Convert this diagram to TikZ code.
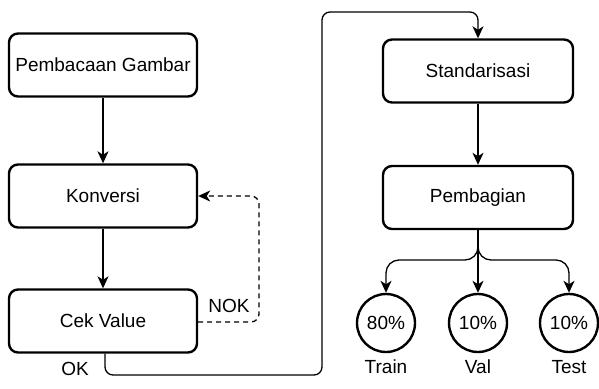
\documentclass[tikz,border=0pt]{standalone}
\usepackage{fontspec}
\setmainfont{Liberation Sans}
\usetikzlibrary{arrows.meta}
\begin{document}
\begin{tikzpicture}[x=1pt,y=-1pt,
  font=\fontsize{19}{22}\selectfont,
  stepbox/.style={draw, line width=2.4pt, rounded corners=9pt, minimum width=188pt, minimum height=63pt, inner sep=0pt},
  pct/.style={draw, circle, line width=2.4pt, minimum size=58pt, inner sep=0pt},
  conn/.style={line width=1.3pt, rounded corners=8pt, -{Stealth[length=12pt,width=11pt,inset=3.5pt]}},
  lbl/.style={inner sep=0pt}]
\useasboundingbox (0,0) rectangle (599,388);
\node[stepbox] (p1) at (103,65) {Pembacaan Gambar};
\node[stepbox] (p2) at (103,196) {Konversi};
\node[stepbox] (p3) at (103,321) {Cek Value};
\node[stepbox, minimum width=190pt] (p4) at (478,71) {Standarisasi};
\node[stepbox, minimum width=190pt] (p5) at (478,197.5) {Pembagian};
\node[pct] (c1) at (386,323) {80\%};
\node[pct] (c2) at (478,323) {10\%};
\node[pct] (c3) at (569,323) {10\%};
\node[lbl] (t1) at (386,367) {Train};
\node[lbl] (t2) at (478,367) {Val};
\node[lbl] (t3) at (569,367) {Test};
\node[lbl] (nok) at (229,306) {NOK};
\node[lbl] (ok) at (75,369) {OK};
\coordinate (d1) at (259,322);
\coordinate (d2) at (259,196);
\coordinate (o1) at (105,375);
\coordinate (o2) at (322,375);
\coordinate (o3) at (322,12);
\coordinate (o4) at (478,12);
\coordinate (b0) at (478,260);
\coordinate (bl) at (386,260);
\coordinate (br) at (569,260);
\draw[conn] (p1) -- (p2);
\draw[conn] (p2) -- (p3);
\draw[conn, dashed, dash pattern=on 5pt off 4pt] (p3.east |- d1) -- (d1) -- (d2) -- (p2.east);
\draw[conn] (p3.south -| o1) -- (o1) -- (o2) -- (o3) -- (o4) -- (p4.north);
\draw[conn] (p4) -- (p5);
\draw[conn, rounded corners=13pt] (p5.south) -- (b0) -- (bl) -- (c1.north);
\draw[conn] (p5.south) -- (c2.north);
\draw[conn, rounded corners=13pt] (p5.south) -- (b0) -- (br) -- (c3.north);
\end{tikzpicture}
\end{document}
